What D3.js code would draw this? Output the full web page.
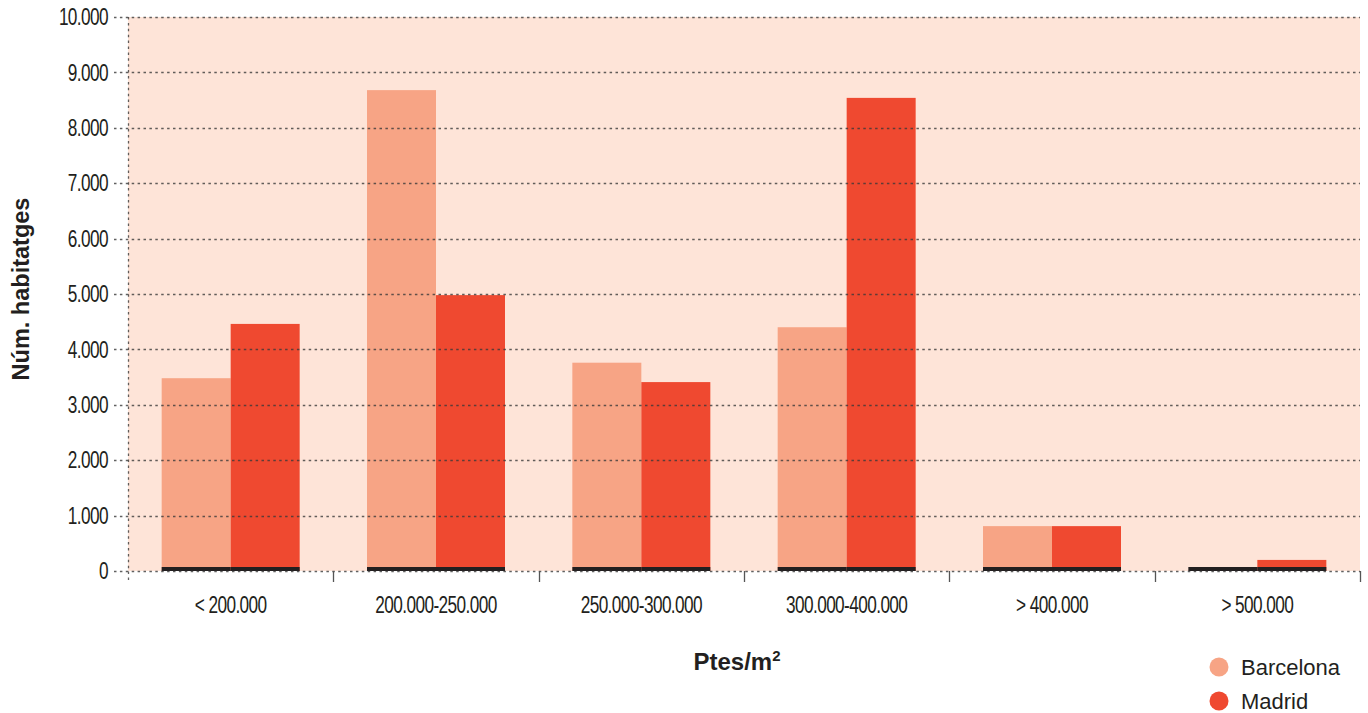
<!DOCTYPE html>
<html>
<head>
<meta charset="utf-8">
<script src="https://cdn.jsdelivr.net/npm/d3@7"></script>
<style>
  html, body { margin: 0; padding: 0; background: #ffffff; }
  svg { display: block; }
  .tick-label { font-family: "Liberation Sans", Arial, sans-serif; font-size: 23px; letter-spacing: -0.8px; fill: #231f20; }
  .title { font-family: "Liberation Sans", Arial, sans-serif; font-weight: bold; fill: #231f20; }
  .legend-label { font-family: "Liberation Sans", Arial, sans-serif; font-size: 22px; fill: #231f20; }
</style>
</head>
<body>
<svg id="chart" width="1368" height="713"></svg>
<script>
// Price bands (Ptes/m²) and number of dwellings per city
const categories = ["< 200.000", "200.000-250.000", "250.000-300.000", "300.000-400.000", "> 400.000", "> 500.000"];
const seriesNames = ["Barcelona", "Madrid"];
const barcelona = [3480, 8680, 3760, 4400, 810, 0];
const madrid = [4460, 4980, 3410, 8540, 810, 200];
const yTicks = [0, 1000, 2000, 3000, 4000, 5000, 6000, 7000, 8000, 9000, 10000];
const seriesColors = ["#f7a485", "#ef4930"];

const svg = d3.select("#chart");
const plotLeft = 128, plotRight = 1360, plotTop = 17, plotBottom = 571;
const narrow = 0.75; // horizontal squeeze for the condensed tick lettering

const x = d3.scaleBand().domain(categories).range([plotLeft, plotRight]).paddingInner(0.328).paddingOuter(0.164);
const x1 = d3.scaleBand().domain(seriesNames).range([0, x.bandwidth()]);
const y = d3.scaleLinear().domain([0, 10000]).range([plotBottom, plotTop]);
const color = d3.scaleOrdinal().domain(seriesNames).range(seriesColors);
const fmt = d3.formatLocale({ decimal: ",", thousands: ".", grouping: [3], currency: ["", ""] }).format(",d");

// plot background
svg.append("rect")
  .attr("x", plotLeft).attr("y", plotTop)
  .attr("width", plotRight - plotLeft).attr("height", plotBottom - plotTop)
  .attr("fill", "#fee4d8");

// bars
const rows = categories.map((c, i) => ({ cat: c, values: [
  { key: "Barcelona", value: barcelona[i] },
  { key: "Madrid", value: madrid[i] }
]}));

const groups = svg.append("g").selectAll("g").data(rows).join("g")
  .attr("transform", d => `translate(${x(d.cat)},0)`);

groups.selectAll("rect.bar").data(d => d.values).join("rect")
  .attr("class", "bar")
  .attr("x", d => x1(d.key))
  .attr("width", x1.bandwidth())
  .attr("y", d => y(d.value))
  .attr("height", d => y(0) - y(d.value))
  .attr("fill", d => color(d.key));

// dark floor strip under each bar
groups.selectAll("rect.floor").data(d => d.values).join("rect")
  .attr("class", "floor")
  .attr("x", d => x1(d.key))
  .attr("width", x1.bandwidth())
  .attr("y", y(0) - 4)
  .attr("height", 4)
  .attr("fill", "#231f20");

// dotted horizontal gridlines, drawn over the bars
svg.append("g").selectAll("line").data(yTicks).join("line")
  .attr("x1", plotLeft - 14).attr("x2", plotRight)
  .attr("y1", d => Math.round(y(d)) + 0.5).attr("y2", d => Math.round(y(d)) + 0.5)
  .attr("stroke", "#3a3a3a").attr("stroke-opacity", 0.8)
  .attr("stroke-width", 1.3)
  .attr("stroke-dasharray", "2.5,3.4");

// dotted vertical axis line
svg.append("line")
  .attr("x1", plotLeft + 0.5).attr("x2", plotLeft + 0.5)
  .attr("y1", plotTop).attr("y2", plotBottom + 11)
  .attr("stroke", "#3a3a3a").attr("stroke-opacity", 0.8)
  .attr("stroke-width", 1.3)
  .attr("stroke-dasharray", "2.5,3.4");

// y tick labels
svg.append("g").selectAll("text").data(yTicks).join("text")
  .attr("class", "tick-label")
  .attr("transform", d => `translate(108,${y(d)}) scale(${narrow},1)`)
  .attr("dy", "0.36em")
  .attr("text-anchor", "end")
  .text(d => fmt(d));

// x ticks at category boundaries
const boundaries = categories.map(c => x(c) - x.step() * x.paddingInner() / 2).slice(1).concat([plotRight]);
svg.append("g").selectAll("line").data(boundaries).join("line")
  .attr("x1", d => Math.round(d) + 0.5).attr("x2", d => Math.round(d) + 0.5)
  .attr("y1", plotBottom).attr("y2", plotBottom + 11)
  .attr("stroke", "#555").attr("stroke-width", 1.3);

// x tick labels
svg.append("g").selectAll("text").data(categories).join("text")
  .attr("class", "tick-label")
  .attr("transform", d => `translate(${x(d) + x.bandwidth() / 2},613) scale(${narrow},1)`)
  .attr("text-anchor", "middle")
  .text(d => d);

// axis titles
svg.append("text")
  .attr("class", "title")
  .attr("font-size", 23.5)
  .attr("transform", "translate(29,289) rotate(-90)")
  .attr("text-anchor", "middle")
  .text("Núm. habitatges");

const xt = svg.append("text")
  .attr("class", "title")
  .attr("font-size", 24)
  .attr("x", 737).attr("y", 670)
  .attr("text-anchor", "middle");
xt.append("tspan").text("Ptes/m");
xt.append("tspan").attr("font-size", 15).attr("dy", -9).text("2");

// legend
const legend = svg.append("g").selectAll("g").data(seriesNames).join("g")
  .attr("transform", (d, i) => `translate(1219,${667 + i * 34})`);
legend.append("circle").attr("r", 9.5).attr("fill", d => color(d));
legend.append("text")
  .attr("class", "legend-label")
  .attr("x", 22).attr("y", 8)
  .text(d => d);
</script>
</body>
</html>
